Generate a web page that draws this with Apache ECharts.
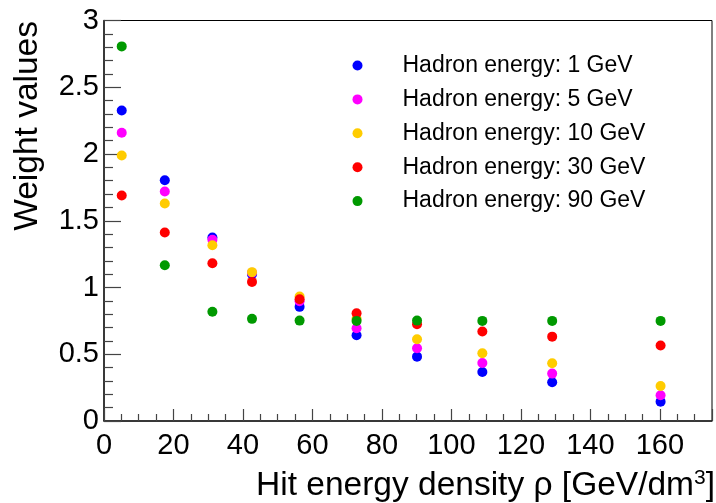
<!DOCTYPE html>
<html>
<head>
<meta charset="utf-8">
<script src="https://cdn.jsdelivr.net/npm/echarts@6/dist/echarts.min.js"></script>
<style>
html,body{margin:0;padding:0;background:#fff;}
#chart{width:716px;height:503px;}
</style>
</head>
<body>
<div id="chart"></div>
<script>
// Hit energy density rho [GeV/dm^3]
const densities = [5.1, 17.5, 31.2, 42.6, 56.3, 72.7, 90.1, 108.9, 129.0, 160.2];
const seriesNames = [
  'Hadron energy: 1 GeV',
  'Hadron energy: 5 GeV',
  'Hadron energy: 10 GeV',
  'Hadron energy: 30 GeV',
  'Hadron energy: 90 GeV'
];
const weights1GeV  = [2.326, 1.804, 1.374, 1.100, 0.855, 0.642, 0.482, 0.367, 0.290, 0.145];
const weights5GeV  = [2.159, 1.719, 1.357, 1.110, 0.897, 0.695, 0.545, 0.435, 0.355, 0.193];
const weights10GeV = [1.989, 1.629, 1.317, 1.115, 0.932, 0.765, 0.612, 0.507, 0.432, 0.262];
const weights30GeV = [1.689, 1.412, 1.182, 1.042, 0.912, 0.807, 0.725, 0.670, 0.632, 0.565];
const weights90GeV = [2.806, 1.167, 0.819, 0.765, 0.752, 0.750, 0.752, 0.750, 0.750, 0.750];
const colors = ['#0000ff', '#ff00ff', '#ffcc00', '#ff0000', '#009900'];
const allWeights = [weights1GeV, weights5GeV, weights10GeV, weights30GeV, weights90GeV];

const FONT = "'Liberation Sans', Arial, Helvetica, sans-serif";

const chart = echarts.init(document.getElementById('chart'), null, {renderer: 'canvas'});

const series = seriesNames.map((name, i) => ({
  name: name,
  type: 'scatter',
  symbol: 'circle',
  symbolSize: 10,
  itemStyle: {color: colors[i], opacity: 1},
  emphasis: {disabled: true},
  data: densities.map((d, j) => [d, allWeights[i][j]])
}));

chart.setOption({
  animation: false,
  backgroundColor: '#fff',
  grid: {
    left: 104, right: 4, top: 20.5, bottom: 82,
    show: true, borderColor: '#000', borderWidth: 1, backgroundColor: 'transparent'
  },
  legend: {
    orient: 'vertical',
    left: 347.5,
    top: 49,
    padding: 5,
    itemWidth: 10,
    itemHeight: 10,
    itemGap: 10.9,
    icon: 'circle',
    selectedMode: false,
    textStyle: {
      fontFamily: FONT, fontSize: 23, color: '#000',
      lineHeight: 22, padding: [0, 0, 0, 35]
    },
    data: seriesNames
  },
  xAxis: {
    type: 'value',
    min: 0, max: 175, interval: 20,
    axisLine: {show: true, onZero: false, lineStyle: {color: '#222', width: 1.5}},
    axisTick: {show: true, inside: true, length: 12, lineStyle: {color: '#444', width: 1.2}},
    minorTick: {show: true, splitNumber: 4, length: 7, lineStyle: {color: '#444', width: 1.2}},
    splitLine: {show: false},
    minorSplitLine: {show: false},
    axisLabel: {
      fontFamily: FONT, fontSize: 29, color: '#000', margin: 10,
      showMaxLabel: false,
      formatter: v => (v % 20 === 0 ? String(v) : '')
    }
  },
  yAxis: {
    type: 'value',
    min: 0, max: 3, interval: 0.5,
    axisLine: {show: true, onZero: false, lineStyle: {color: '#222', width: 1.5}},
    axisTick: {show: true, inside: true, length: 17, lineStyle: {color: '#444', width: 1.2}},
    minorTick: {show: true, splitNumber: 5, length: 9, lineStyle: {color: '#444', width: 1.2}},
    splitLine: {show: false},
    minorSplitLine: {show: false},
    axisLabel: {fontFamily: FONT, fontSize: 29, color: '#000', margin: 5}
  },
  graphic: [
    {
      type: 'text',
      x: 28, y: 21,
      rotation: Math.PI / 2,
      style: {
        text: 'Weight values',
        fontFamily: FONT, fontSize: 33.5, fill: '#000',
        align: 'right', verticalAlign: 'middle'
      }
    },
    {
      type: 'text',
      x: 715, y: 486,
      style: {
        text: '{a|Hit energy density ρ [GeV/dm}{s|3}{a|]}',
        align: 'right', verticalAlign: 'middle',
        rich: {
          a: {fontFamily: FONT, fontSize: 33.5, fill: '#000', color: '#000'},
          s: {fontFamily: FONT, fontSize: 21, fill: '#000', color: '#000', verticalAlign: 'top', padding: [0, 0, 16, 0]}
        }
      }
    }
  ],
  series: series
});
</script>
</body>
</html>
